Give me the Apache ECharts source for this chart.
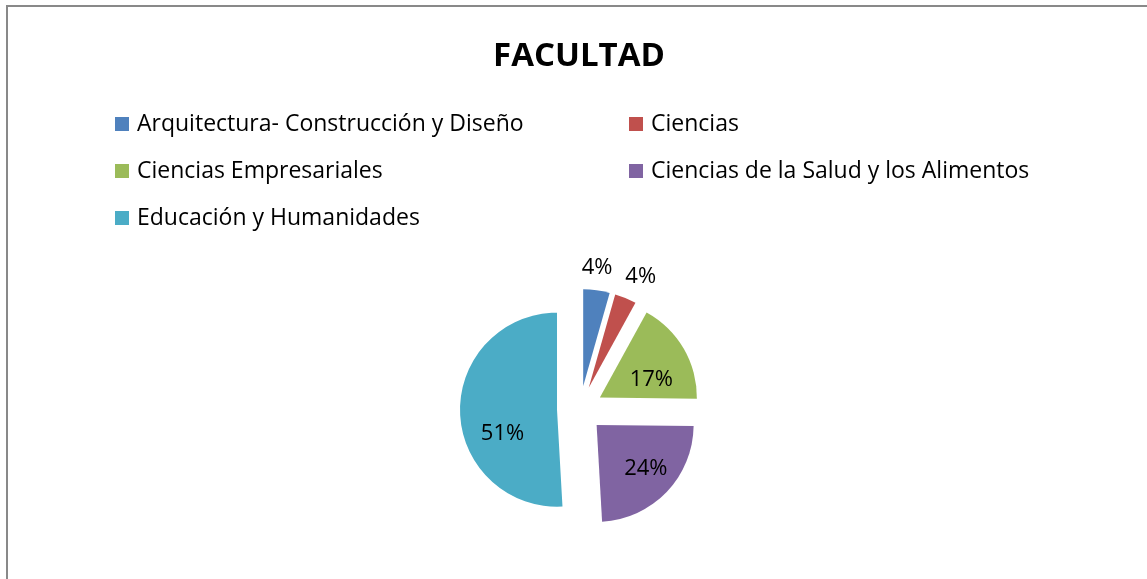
<!DOCTYPE html>
<html>
<head>
<meta charset="utf-8">
<script src="https://cdn.jsdelivr.net/npm/echarts@6/dist/echarts.min.js"></script>
<style>
  html, body { margin: 0; padding: 0; background: #fff; }
  #chart { width: 1147px; height: 579px; }
</style>
</head>
<body>
<div id="chart"></div>
<script>
const faculties = [
  "Arquitectura- Construcción y Diseño",
  "Ciencias",
  "Ciencias Empresariales",
  "Ciencias de la Salud y los Alimentos",
  "Educación y Humanidades",
];
const shares = [4.4, 3.6, 17.2, 23.9, 50.9];
const colors = ["#4F81BD", "#C0504D", "#9BBB59", "#8064A2", "#4BACC6"];
// small slices get their label outside, as in the original
const labelOutside = [true, true, false, false, false];
// small nudges so labels sit where Excel put them
const labelNudge = [[0, 0], [9, 0], [7, 8], [12, 8], [-3, 23]];

const FONT = "'Open Sans', 'Liberation Sans', sans-serif";

const chart = echarts.init(document.getElementById("chart"));

const legendBase = {
  orient: "vertical",
  top: 112,
  padding: 0,
  icon: "rect",
  itemWidth: 14,
  itemHeight: 14,
  itemGap: 23,
  selectedMode: false,
  textStyle: {
    fontFamily: FONT,
    fontSize: 23,
    color: "#000",
    lineHeight: 24,
    padding: [0, 0, 0, 3],
  },
};

const option = {
  animation: false,
  color: colors,
  title: {
    text: "FACULTAD",
    left: 574,
    textAlign: "center",
    top: 35,
    textStyle: {
      fontFamily: FONT,
      fontSize: 33,
      fontWeight: "bold",
      color: "#000",
    },
  },
  legend: [
    { ...legendBase, left: 115, data: [faculties[0], faculties[2], faculties[4]] },
    { ...legendBase, left: 629, data: [faculties[1], faculties[3]] },
  ],
  graphic: [
    {
      type: "rect",
      silent: true,
      shape: { x: 7, y: 6, width: 1300, height: 700 },
      style: { fill: "none", stroke: "#898989", lineWidth: 2 },
    },
  ],
  series: [
    {
      type: "pie",
      center: [580, 409],
      radius: 97,
      startAngle: 90,
      clockwise: true,
      selectedMode: "multiple",
      selectedOffset: 23,
      avoidLabelOverlap: false,
      labelLayout: function (params) {
        const n = labelNudge[params.dataIndex];
        return { hideOverlap: false, dx: n[0], dy: n[1] };
      },
      percentPrecision: 0,
      emphasis: { scale: false },
      label: {
        formatter: "{d}%",
        fontFamily: FONT,
        fontSize: 22,
        color: "#000",
      },
      data: faculties.map((name, i) => ({
        name,
        value: shares[i],
        selected: true,
        label: labelOutside[i]
          ? { position: "outside", distanceToLabelLine: -18 }
          : { position: "inside" },
        labelLine: labelOutside[i]
          ? { show: false, length: 23, length2: 0 }
          : { show: false },
      })),
    },
  ],
};

chart.setOption(option);
</script>
</body>
</html>
